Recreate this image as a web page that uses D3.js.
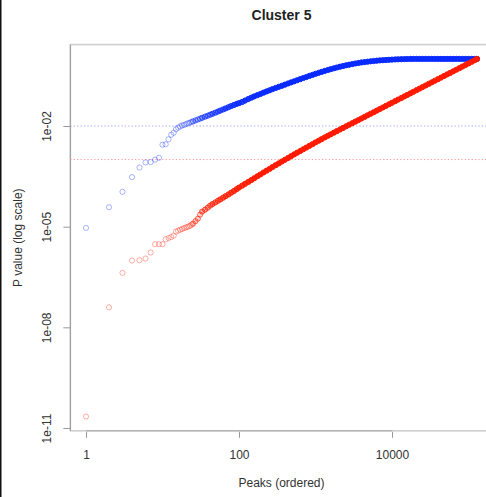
<!DOCTYPE html>
<html>
<head>
<meta charset="utf-8">
<script src="https://cdn.jsdelivr.net/npm/d3@7"></script>
<style>
  html, body { margin: 0; padding: 0; background: #fff; }
  svg { display: block; font-family: "Liberation Sans", Arial, Helvetica, sans-serif; }
</style>
</head>
<body>
<div id="chart"></div>
<script>
// rank of each plotted peak (x) and its p-value in each series (y)
const ranks = [
  1, 2, 3, 4, 5, 6, 7, 8, 9, 10, 11, 12, 13, 14, 15, 16, 17, 18, 19, 20,
  21, 22, 23, 24, 25, 27, 29, 31, 33, 36, 39, 42, 45, 49, 53, 57, 62, 67, 73, 79, 86, 93, 100,
  110, 120, 132, 145, 158, 174, 190, 209, 229, 251, 275, 302, 331, 363, 398, 437, 479, 525, 575,
  631, 692, 759, 832, 912, 1000,
  1100, 1200, 1320, 1450, 1580, 1740, 1900, 2090, 2290, 2510, 2750, 3020, 3310, 3630, 3980,
  4370, 4790, 5250, 5750, 6310, 6920, 7590, 8320, 9120, 10000,
  11000, 12000, 13200, 14500, 15800, 17400, 19000, 20900, 22900, 25100, 27500, 30200, 33100,
  36300, 39800, 43700, 47900, 52500, 57500, 63100, 69200, 75900, 83200, 91200, 100000,
  110000, 120000, 129000
];
const pBlue = [
  9.2e-6, 3.8e-5, 1.09e-4, 3.0e-4, 5.8e-4, 8.2e-4, 8.4e-4, 9.9e-4, 1.13e-3, 2.77e-3,
  2.84e-3, 4.0e-3, 5.5e-3, 6.3e-3, 8.0e-3, 8.9e-3, 9.7e-3, 1.035e-2, 1.07e-2, 1.12e-2,
  1.18e-2, 1.22e-2, 1.27e-2, 1.32e-2, 1.37e-2, 1.47e-2, 1.56e-2, 1.66e-2, 1.76e-2, 1.90e-2,
  2.03e-2, 2.17e-2, 2.31e-2, 2.49e-2, 2.69e-2, 2.88e-2, 3.11e-2, 3.35e-2, 3.64e-2, 3.93e-2,
  4.24e-2, 4.54e-2, 4.80e-2,
  0.052, 0.0573, 0.0635, 0.070, 0.076, 0.083, 0.090, 0.0986, 0.107, 0.116, 0.126, 0.136,
  0.147, 0.158, 0.171, 0.185, 0.199, 0.214, 0.231, 0.249, 0.269, 0.288, 0.311, 0.333, 0.359,
  0.385, 0.409, 0.439, 0.467, 0.493, 0.524, 0.553, 0.585, 0.614, 0.644, 0.671, 0.700, 0.730,
  0.755, 0.782, 0.802, 0.824, 0.847, 0.865, 0.883, 0.902, 0.914, 0.927, 0.940, 0.953,
  0.963, 0.971, 0.978, 0.985, 0.992, 0.996, 1, 1, 1, 1, 1, 1, 1, 1, 1, 1, 1, 1, 1, 1, 1,
  1, 1, 1, 1,
  1, 1, 1
];
const pRed = [
  2.2e-11, 3.95e-8, 4.2e-7, 9.8e-7, 1.0e-6, 1.12e-6, 1.7e-6, 3.0e-6, 3.0e-6, 3.0e-6,
  4.2e-6, 4.6e-6, 4.9e-6, 5.4e-6, 7.1e-6, 7.6e-6, 8.1e-6, 8.5e-6, 9.0e-6, 9.4e-6,
  9.8e-6, 1.02e-5, 1.06e-5, 1.15e-5, 1.23e-5, 1.46e-5, 1.73e-5, 2.28e-5, 2.81e-5, 3.21e-5,
  3.69e-5, 4.24e-5, 4.70e-5, 5.27e-5, 5.89e-5, 6.49e-5, 7.29e-5, 8.13e-5, 9.14e-5, 1.03e-4,
  1.16e-4, 1.31e-4, 1.46e-4,
  1.67e-4, 1.89e-4, 2.15e-4, 2.45e-4, 2.77e-4, 3.18e-4, 3.59e-4, 4.11e-4, 4.66e-4, 5.27e-4,
  6.00e-4, 6.81e-4, 7.69e-4, 8.73e-4, 9.84e-4, 1.11e-3, 1.26e-3, 1.42e-3, 1.60e-3, 1.80e-3,
  2.03e-3, 2.28e-3, 2.56e-3, 2.87e-3, 3.24e-3,
  3.64e-3, 4.05e-3, 4.56e-3, 5.10e-3, 5.65e-3, 6.34e-3, 7.03e-3, 7.87e-3, 8.75e-3, 9.77e-3,
  1.09e-2, 1.21e-2, 1.35e-2, 1.50e-2, 1.67e-2, 1.86e-2, 2.08e-2, 2.31e-2, 2.57e-2, 2.87e-2,
  3.20e-2, 3.56e-2, 3.97e-2, 4.43e-2, 4.92e-2,
  0.0551, 0.0611, 0.0681, 0.0760, 0.0841, 0.0942, 0.1045, 0.117, 0.130, 0.1445, 0.161, 0.180,
  0.200, 0.223, 0.248, 0.277, 0.309, 0.344, 0.382, 0.426, 0.475, 0.528, 0.590, 0.656, 0.731,
  0.818, 0.908, 1.0
];
const thresholds = [0.01, 0.001];
const xTicks = [1, 100, 10000];
const yTicks = [1e-11, 1e-8, 1e-5, 1e-2];

const W = 486, H = 497;

const svg = d3.select('#chart')
    .append('svg')
    .attr('width', W)
    .attr('height', H);

const x = d3.scaleLog().domain([1, 10000]).range([86, 392]);
const y = d3.scaleLog().domain([1e-11, 1e-2]).range([428, 126]);

// R style plot region: data range stretched by 4% (in log space)
const lx = d3.extent(ranks).map(Math.log10);
const ly = d3.extent(pBlue.concat(pRed)).map(Math.log10);
const padX = (lx[1] - lx[0]) * 0.04, padY = (ly[1] - ly[0]) * 0.04;
const boxL = x(Math.pow(10, lx[0] - padX)), boxR = x(Math.pow(10, lx[1] + padX));
const boxT = y(Math.pow(10, ly[1] + padY)), boxB = y(Math.pow(10, ly[0] - padY));

// frame at the left edge of the picture
svg.append('rect')
    .attr('x', 0).attr('y', 0)
    .attr('width', 1.5).attr('height', H)
    .attr('fill', '#111');

// box
svg.append('rect')
    .attr('x', boxL).attr('y', boxT)
    .attr('width', boxR - boxL).attr('height', boxB - boxT)
    .attr('fill', 'none')
    .attr('stroke', '#cfcfcf')
    .attr('stroke-width', 1.6);

svg.append('line')
    .attr('x1', boxL).attr('x2', boxL)
    .attr('y1', boxT).attr('y2', boxB)
    .attr('stroke', '#9a9a9a');

// threshold lines
svg.selectAll('.thr')
    .data(thresholds)
    .enter()
    .append('line')
    .attr('class', 'thr')
    .attr('x1', boxL).attr('x2', boxR)
    .attr('y1', d => y(d)).attr('y2', d => y(d))
    .attr('stroke', (d, i) => i === 0 ? '#a6a6ff' : '#ff9c9c')
    .attr('stroke-width', 1)
    .attr('stroke-dasharray', '1.3,2.1');

// each drawn circle stands for the peaks up to the next listed rank;
// where many of them pile up the rings merge into a solid band
const weight = ranks.map((r, i) => i < ranks.length - 1 ? ranks[i + 1] - r : r - ranks[i - 1]);
const alpha = n => 1 - Math.pow(1 - 0.35, n);

const drawSeries = (vals, col) => {
  svg.append('g')
    .selectAll('circle')
    .data(vals)
    .enter()
    .append('circle')
    .attr('cx', (d, i) => x(ranks[i]))
    .attr('cy', d => y(d))
    .attr('r', 2.6)
    .attr('fill', col)
    .attr('fill-opacity', (d, i) => alpha((weight[i] - 1) / 2))
    .attr('stroke', col)
    .attr('stroke-width', 1)
    .attr('stroke-opacity', (d, i) => alpha(weight[i]));
};
drawSeries(pBlue, '#0a2bff');
drawSeries(pRed, '#ff1a00');

// axes
const xAxis = svg.append('g')
    .attr('transform', `translate(0, ${boxB})`)
    .call(d3.axisBottom(x).tickValues(xTicks).tickFormat(d3.format('d')).tickSize(7));
xAxis.select('.domain').remove();
xAxis.selectAll('.tick line').attr('stroke', '#999').attr('y1', 1);
xAxis.selectAll('.tick text')
    .attr('y', 28).attr('dy', 0)
    .attr('fill', '#333').attr('font-size', 12);

svg.append('line')
    .attr('x1', x(xTicks[0])).attr('x2', x(xTicks[xTicks.length - 1]))
    .attr('y1', boxB).attr('y2', boxB)
    .attr('stroke', '#a8a8a8');

const yAxis = svg.append('g')
    .attr('transform', `translate(${boxL}, 0)`)
    .call(d3.axisLeft(y).tickValues(yTicks)
      .tickFormat(d => '1e-' + String(-Math.round(Math.log10(d))).padStart(2, '0'))
      .tickSize(7));
yAxis.select('.domain').remove();
yAxis.selectAll('.tick line').attr('stroke', '#999');
yAxis.selectAll('.tick text')
    .attr('transform', 'rotate(-90)')
    .attr('x', 0).attr('y', -19).attr('dy', 0)
    .attr('text-anchor', 'middle')
    .attr('fill', '#333').attr('font-size', 12);

// titles
svg.append('text')
    .text('Cluster 5')
    .attr('x', (boxL + boxR) / 2).attr('y', 20)
    .attr('text-anchor', 'middle')
    .attr('font-weight', 'bold')
    .attr('font-size', 14)
    .attr('fill', '#222');

svg.append('text')
    .text('Peaks (ordered)')
    .attr('x', (boxL + boxR) / 2).attr('y', 487)
    .attr('text-anchor', 'middle')
    .attr('font-size', 12)
    .attr('fill', '#333');

svg.append('text')
    .text('P value (log scale)')
    .attr('transform', `translate(22, ${(boxT + boxB) / 2}) rotate(-90)`)
    .attr('text-anchor', 'middle')
    .attr('font-size', 12)
    .attr('fill', '#333');
</script>
</body>
</html>
